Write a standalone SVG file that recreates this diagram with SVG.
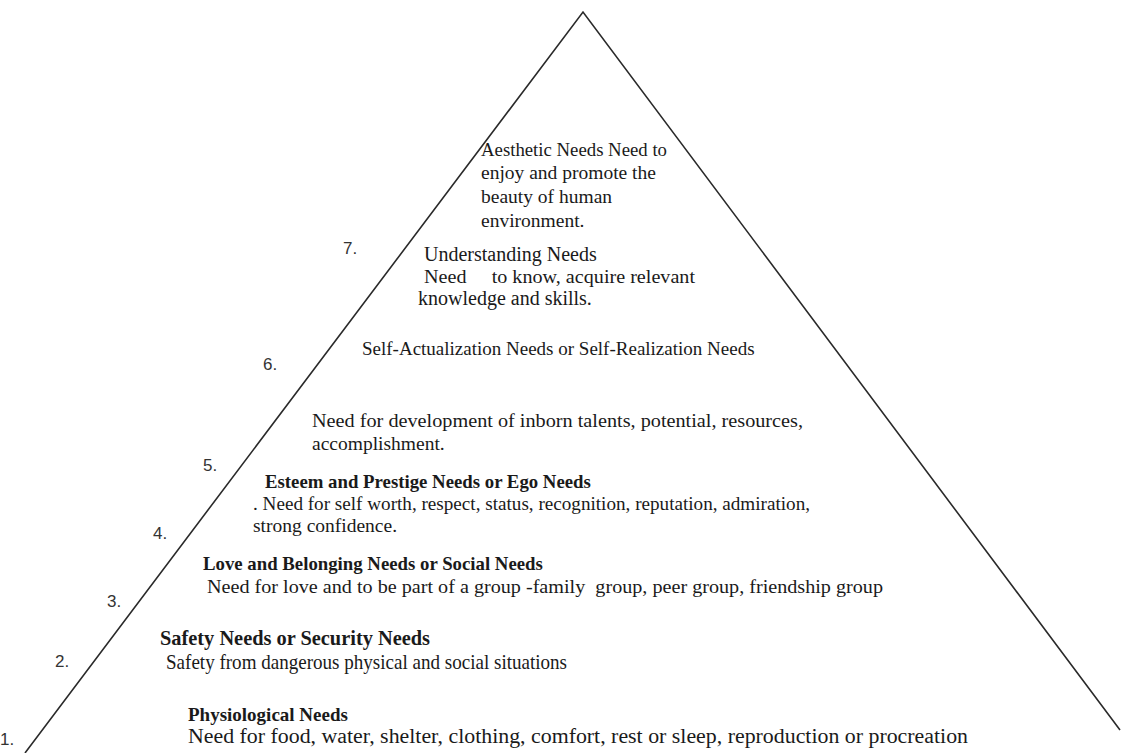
<svg xmlns="http://www.w3.org/2000/svg" width="1122" height="753" viewBox="0 0 1122 753">
<style>
text{font-family:"Liberation Serif","Times New Roman",serif;fill:#1a1a1a;white-space:pre}
.r{font-size:19.5px}
.b{font-size:19px;font-weight:bold}
.n{font-family:"Liberation Sans",Arial,sans-serif;font-size:17px;fill:#333}
.edge{fill:none;stroke:#2a2a2a;stroke-width:1.6}
</style>
<rect width="1122" height="753" fill="#fff"/>
<g id="connectors">
<polyline class="edge" points="25,753 583,12 1120,730"/>
</g>
<g id="level7-aesthetic">
<text class="r" x="481" y="156" textLength="186" lengthAdjust="spacingAndGlyphs">Aesthetic Needs Need to</text>
<text class="r" x="481" y="179">enjoy and promote the</text>
<text class="r" x="481" y="203">beauty of human</text>
<text class="r" x="481" y="227">environment.</text>
</g>
<g id="level7-understanding">
<text class="n" x="343" y="254">7.</text>
<text class="r" x="424" y="261" style="font-size:20px">Understanding Needs</text>
<text class="r" x="424" y="283" textLength="271" lengthAdjust="spacingAndGlyphs">Need     to know, acquire relevant</text>
<text class="r" x="418" y="305" style="font-size:20px">knowledge and skills.</text>
</g>
<g id="level6">
<text class="n" x="263" y="370">6.</text>
<text class="r" x="362" y="355" style="font-size:19px">Self-Actualization Needs or Self-Realization Needs</text>
<text class="r" x="312" y="427" textLength="491" lengthAdjust="spacingAndGlyphs">Need for development of inborn talents, potential, resources,</text>
<text class="r" x="312" y="450">accomplishment.</text>
</g>
<g id="level5">
<text class="n" x="203" y="471">5.</text>
<text class="b" x="265" y="488" style="font-size:18.8px">Esteem and Prestige Needs or Ego Needs</text>
<text class="r" x="253" y="510" textLength="557" lengthAdjust="spacingAndGlyphs">. Need for self worth, respect, status, recognition, reputation, admiration,</text>
<text class="r" x="253" y="532">strong confidence.</text>
</g>
<g id="level4">
<text class="n" x="153" y="539">4.</text>
<text class="b" x="203" y="570" style="font-size:18.8px">Love and Belonging Needs or Social Needs</text>
<text class="r" x="207" y="593" textLength="676" lengthAdjust="spacingAndGlyphs">Need for love and to be part of a group -family  group, peer group, friendship group</text>
</g>
<g id="level3">
<text class="n" x="107" y="607">3.</text>
</g>
<g id="level2">
<text class="n" x="55" y="667">2.</text>
<text class="b" x="160" y="645" textLength="270" lengthAdjust="spacingAndGlyphs" style="font-size:22px">Safety Needs or Security Needs</text>
<text class="r" x="166" y="669" textLength="401" lengthAdjust="spacingAndGlyphs" style="font-size:21.5px">Safety from dangerous physical and social situations</text>
</g>
<g id="level1">
<text class="n" x="0" y="745">1.</text>
<text class="b" x="188" y="721">Physiological Needs</text>
<text class="r" x="188" y="743" textLength="780" lengthAdjust="spacingAndGlyphs" style="font-size:20px">Need for food, water, shelter, clothing, comfort, rest or sleep, reproduction or procreation</text>
</g>
</svg>
